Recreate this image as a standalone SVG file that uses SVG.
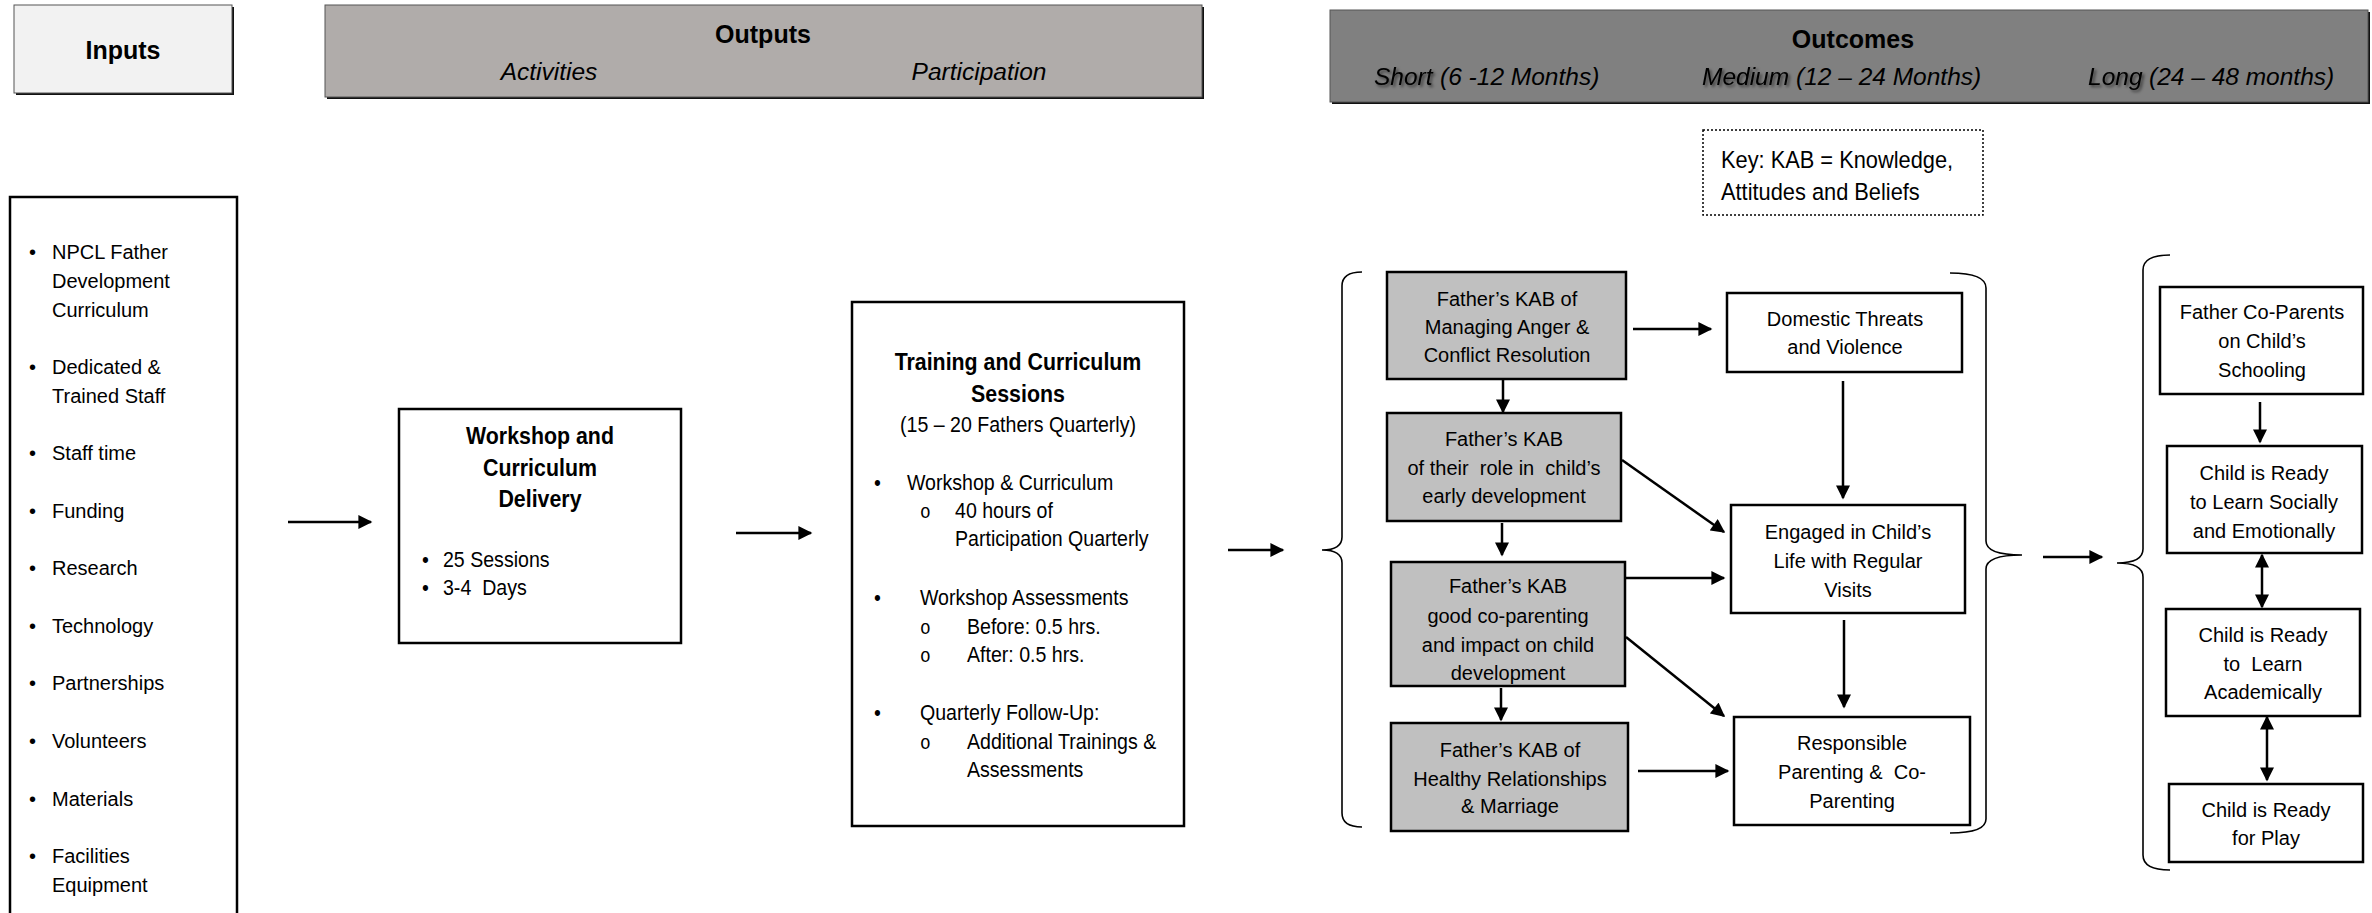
<svg xmlns="http://www.w3.org/2000/svg" width="2372" height="913" viewBox="0 0 2372 913">
<style>
text{font-family:"Liberation Sans",Arial,sans-serif;fill:#000;font-size:22px}
.c{text-anchor:middle;transform-box:fill-box;transform-origin:center;transform:scaleX(.89)}
.l{transform-box:fill-box;transform-origin:left center;transform:scaleX(.89)}
.m{text-anchor:middle}
.n{font-size:20px}
.hb{font-size:25px;font-weight:bold}
.hi{font-size:24.5px;font-style:italic}
.tb{font-size:24px;font-weight:bold}
.mono{font-family:"Liberation Mono","Courier New",monospace;font-size:20px}
.box{fill:#fff;stroke:#000;stroke-width:2.5}
.gbox{fill:#c0c0c0;stroke:#000;stroke-width:2.5}
.cn{fill:none;stroke:#000;stroke-width:2.5}
.br{fill:none;stroke:#000;stroke-width:1.6}
.shd{fill:#111}
</style>
<defs>
<marker id="ah" viewBox="0 0 10 10" refX="9" refY="5" markerWidth="15" markerHeight="14" markerUnits="userSpaceOnUse" orient="auto-start-reverse"><path d="M0,0L10,5L0,10z" fill="#000"/></marker>
<filter id="sh" x="-10%" y="-30%" width="130%" height="170%"><feDropShadow dx="2" dy="2" stdDeviation="1.5" flood-color="#000" flood-opacity=".55"/></filter>
</defs>
<rect width="2372" height="913" fill="#fff"/>

<g id="hdr-inputs">
<rect class="shd" x="16" y="7" width="218" height="88"/>
<rect x="14" y="5" width="218" height="88" fill="#f2f2f2" stroke="#555" stroke-width="1"/>
<text class="m hb" x="123" y="59">Inputs</text>
</g>
<g id="hdr-outputs">
<rect class="shd" x="327" y="7" width="877" height="92"/>
<rect x="325" y="5" width="877" height="92" fill="#b0acaa" stroke="#555" stroke-width="1"/>
<text class="m hb" x="763" y="43">Outputs</text>
<text class="m hi" x="549" y="80">Activities</text>
<text class="m hi" x="979" y="80">Participation</text>
</g>
<g id="hdr-outcomes">
<rect class="shd" x="1332" y="12" width="1038" height="92"/>
<rect x="1330" y="10" width="1038" height="92" fill="#808080" stroke="#555" stroke-width="1"/>
<text class="m hb" x="1853" y="48">Outcomes</text>
<text class="hi" x="1374" y="85" filter="url(#sh)">Short</text>
<text class="hi" x="1440" y="85">(6 -12 Months)</text>
<text class="hi" x="1702" y="85" filter="url(#sh)">Medium</text>
<text class="hi" x="1796" y="85">(12 – 24 Months)</text>
<text class="hi" x="2088" y="85" filter="url(#sh)">Long</text>
<text class="hi" x="2149" y="85">(24 – 48 months)</text>
</g>

<g id="key">
<rect x="1703" y="130" width="280" height="85" fill="#fff" stroke="#000" stroke-width="1.5" stroke-dasharray="2,2"/>
<text class="l" style="font-size:24.5px" x="1721" y="168">Key: KAB = Knowledge,</text>
<text class="l" style="font-size:24.5px" x="1721" y="200">Attitudes and Beliefs</text>
</g>

<g id="inputs">
<rect class="box" x="10" y="197" width="227" height="740"/>
<text class="n" x="29"><tspan x="29" y="259">•</tspan><tspan x="29" y="374">•</tspan><tspan x="29" y="460">•</tspan><tspan x="29" y="518">•</tspan><tspan x="29" y="575">•</tspan><tspan x="29" y="633">•</tspan><tspan x="29" y="690">•</tspan><tspan x="29" y="748">•</tspan><tspan x="29" y="806">•</tspan><tspan x="29" y="863">•</tspan></text>
<text class="n" x="52"><tspan x="52" y="259">NPCL Father</tspan><tspan x="52" y="288">Development</tspan><tspan x="52" y="317">Curriculum</tspan><tspan x="52" y="374">Dedicated &amp;</tspan><tspan x="52" y="403">Trained Staff</tspan><tspan x="52" y="460">Staff time</tspan><tspan x="52" y="518">Funding</tspan><tspan x="52" y="575">Research</tspan><tspan x="52" y="633">Technology</tspan><tspan x="52" y="690">Partnerships</tspan><tspan x="52" y="748">Volunteers</tspan><tspan x="52" y="806">Materials</tspan><tspan x="52" y="863">Facilities</tspan><tspan x="52" y="892">Equipment</tspan></text>
</g>

<g id="workshop">
<rect class="box" x="399" y="409" width="282" height="234"/>
<text class="c tb" x="540"><tspan x="540" y="444">Workshop and</tspan><tspan x="540" y="476">Curriculum</tspan><tspan x="540" y="507">Delivery</tspan></text>
<text class="l" x="422"><tspan x="422" y="567">•</tspan><tspan x="422" y="595">•</tspan></text>
<text class="l" x="443"><tspan x="443" y="567">25 Sessions</tspan><tspan x="443" y="595">3-4&#160; Days</tspan></text>
</g>

<g id="training">
<rect class="box" x="852" y="302" width="332" height="524"/>
<text class="c tb" x="1018"><tspan x="1018" y="370">Training and Curriculum</tspan><tspan x="1018" y="402">Sessions</tspan></text>
<text class="c" x="1018" y="432">(15 – 20 Fathers Quarterly)</text>
<text class="l" x="874"><tspan x="874" y="490">•</tspan><tspan x="874" y="605">•</tspan><tspan x="874" y="720">•</tspan></text>
<text class="l mono" x="920"><tspan x="920" y="518">o</tspan><tspan x="920" y="634">o</tspan><tspan x="920" y="662">o</tspan><tspan x="920" y="749">o</tspan></text>
<text class="l" x="907" y="490">Workshop &amp; Curriculum</text>
<text class="l" x="955"><tspan x="955" y="518">40 hours of</tspan><tspan x="955" y="546">Participation Quarterly</tspan></text>
<text class="l" x="920"><tspan x="920" y="605">Workshop Assessments</tspan><tspan x="920" y="720">Quarterly Follow-Up:</tspan></text>
<text class="l" x="967"><tspan x="967" y="634">Before: 0.5 hrs.</tspan><tspan x="967" y="662">After: 0.5 hrs.</tspan><tspan x="967" y="749">Additional Trainings &amp;</tspan><tspan x="967" y="777">Assessments</tspan></text>
</g>

<g id="kab-anger">
<rect class="gbox" x="1387" y="272" width="239" height="107"/>
<text class="m n" x="1507"><tspan x="1507" y="306">Father’s KAB of</tspan><tspan x="1507" y="334">Managing Anger &amp;</tspan><tspan x="1507" y="362">Conflict Resolution</tspan></text>
</g>
<g id="kab-role">
<rect class="gbox" x="1387" y="413" width="234" height="108"/>
<text class="m n" x="1504"><tspan x="1504" y="446">Father’s KAB</tspan><tspan x="1504" y="475">of their&#160; role in&#160; child’s</tspan><tspan x="1504" y="503">early development</tspan></text>
</g>
<g id="kab-coparenting">
<rect class="gbox" x="1391" y="562" width="234" height="124"/>
<text class="m n" x="1508"><tspan x="1508" y="593">Father’s KAB</tspan><tspan x="1508" y="623">good co-parenting</tspan><tspan x="1508" y="652">and impact on child</tspan><tspan x="1508" y="680">development</tspan></text>
</g>
<g id="kab-relationships">
<rect class="gbox" x="1391" y="723" width="237" height="108"/>
<text class="m n" x="1510"><tspan x="1510" y="757">Father’s KAB of</tspan><tspan x="1510" y="786">Healthy Relationships</tspan><tspan x="1510" y="813">&amp; Marriage</tspan></text>
</g>
<g id="domestic">
<rect class="box" x="1727" y="293" width="235" height="79"/>
<text class="m n" x="1845"><tspan x="1845" y="326">Domestic Threats</tspan><tspan x="1845" y="354">and Violence</tspan></text>
</g>
<g id="engaged">
<rect class="box" x="1731" y="505" width="234" height="108"/>
<text class="m n" x="1848"><tspan x="1848" y="539">Engaged in Child’s</tspan><tspan x="1848" y="568">Life with Regular</tspan><tspan x="1848" y="597">Visits</tspan></text>
</g>
<g id="responsible">
<rect class="box" x="1734" y="717" width="236" height="108"/>
<text class="m n" x="1852"><tspan x="1852" y="750">Responsible</tspan><tspan x="1852" y="779">Parenting &amp;&#160; Co-</tspan><tspan x="1852" y="808">Parenting</tspan></text>
</g>
<g id="schooling">
<rect class="box" x="2160" y="287" width="203" height="107"/>
<text class="m n" x="2262"><tspan x="2262" y="319">Father Co-Parents</tspan><tspan x="2262" y="348">on Child’s</tspan><tspan x="2262" y="377">Schooling</tspan></text>
</g>
<g id="socially">
<rect class="box" x="2167" y="446" width="195" height="107"/>
<text class="m n" x="2264"><tspan x="2264" y="480">Child is Ready</tspan><tspan x="2264" y="509">to Learn Socially</tspan><tspan x="2264" y="538">and Emotionally</tspan></text>
</g>
<g id="academically">
<rect class="box" x="2166" y="609" width="194" height="107"/>
<text class="m n" x="2263"><tspan x="2263" y="642">Child is Ready</tspan><tspan x="2263" y="671">to&#160; Learn</tspan><tspan x="2263" y="699">Academically</tspan></text>
</g>
<g id="play">
<rect class="box" x="2169" y="784" width="194" height="78"/>
<text class="m n" x="2266"><tspan x="2266" y="817">Child is Ready</tspan><tspan x="2266" y="845">for Play</tspan></text>
</g>

<g id="braces">
<path class="br" d="M1362,272 Q1342,272 1342,286 L1342,537 Q1342,550 1322,550 Q1342,550 1342,563 L1342,813 Q1342,827 1362,827"/>
<path class="br" d="M1950,273 Q1986,273 1986,288 L1986,541 Q1986,555 2022,555 Q1986,555 1986,569 L1986,819 Q1986,833 1950,833"/>
<path class="br" d="M2170,255 Q2143,255 2143,270 L2143,549 Q2143,563 2117,563 Q2143,563 2143,577 L2143,855 Q2143,870 2170,870"/>
</g>

<g id="connectors">
<line class="cn" x1="288" y1="522" x2="371" y2="522" marker-end="url(#ah)"/>
<line class="cn" x1="736" y1="533" x2="811" y2="533" marker-end="url(#ah)"/>
<line class="cn" x1="1228" y1="550" x2="1283" y2="550" marker-end="url(#ah)"/>
<line class="cn" x1="1633" y1="329" x2="1711" y2="329" marker-end="url(#ah)"/>
<line class="cn" x1="1503" y1="380" x2="1503" y2="412" marker-end="url(#ah)"/>
<line class="cn" x1="1843" y1="381" x2="1843" y2="498" marker-end="url(#ah)"/>
<line class="cn" x1="1622" y1="460" x2="1724" y2="532" marker-end="url(#ah)"/>
<line class="cn" x1="1502" y1="523" x2="1502" y2="555" marker-end="url(#ah)"/>
<line class="cn" x1="1626" y1="578" x2="1724" y2="578" marker-end="url(#ah)"/>
<line class="cn" x1="1501" y1="688" x2="1501" y2="720" marker-end="url(#ah)"/>
<line class="cn" x1="1626" y1="637" x2="1724" y2="716" marker-end="url(#ah)"/>
<line class="cn" x1="1844" y1="620" x2="1844" y2="707" marker-end="url(#ah)"/>
<line class="cn" x1="1638" y1="771" x2="1728" y2="771" marker-end="url(#ah)"/>
<line class="cn" x1="2043" y1="557" x2="2102" y2="557" marker-end="url(#ah)"/>
<line class="cn" x1="2260" y1="402" x2="2260" y2="442" marker-end="url(#ah)"/>
<line class="cn" x1="2262" y1="555" x2="2262" y2="607" marker-start="url(#ah)" marker-end="url(#ah)"/>
<line class="cn" x1="2267" y1="717" x2="2267" y2="780" marker-start="url(#ah)" marker-end="url(#ah)"/>
</g>
</svg>
